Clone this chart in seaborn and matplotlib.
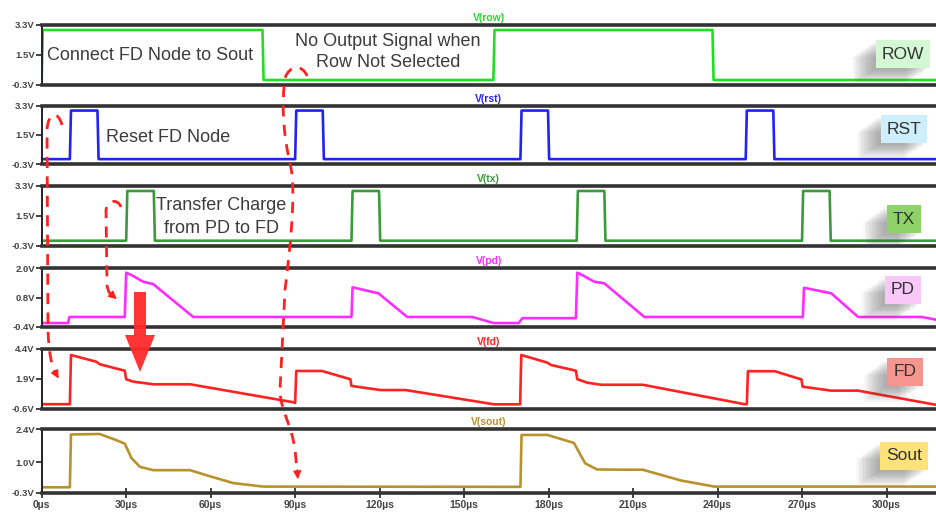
import matplotlib.pyplot as plt
import matplotlib.patheffects as pe
from matplotlib.path import Path
from matplotlib.patches import PathPatch, Polygon, FancyArrowPatch
import seaborn as sns

# ---- waveform breakpoints: time (us) and voltage (V) ----
row_t = [0, 0.4, 78.4, 78.8, 160.4, 160.8, 238.2, 238.6, 318]
row_v = [0, 3.0, 3.0, 0, 0, 3.0, 3.0, 0, 0]

rst_t = [0, 10, 10.4, 19.8, 20.2, 90, 90.4, 99.8, 100.2, 170, 170.4, 179.8, 180.2,
         250, 250.4, 259.8, 260.2, 318]
rst_v = [0, 0, 3.0, 3.0, 0, 0, 3.0, 3.0, 0, 0, 3.0, 3.0, 0, 0, 3.0, 3.0, 0, 0]

tx_t = [0, 30, 30.4, 39.8, 40.2, 110, 110.4, 119.8, 120.2, 190, 190.4, 199.8, 200.2,
        270, 270.4, 279.8, 280.2, 318]
tx_v = [0, 0, 3.0, 3.0, 0, 0, 3.0, 3.0, 0, 0, 3.0, 3.0, 0, 0, 3.0, 3.0, 0, 0]

pd_t = [0, 9.4, 9.8, 29.5, 30, 31.9, 36, 39.6, 53.8, 110, 110.4, 119.6, 129.8, 152.9,
        160.5, 169.4, 170.7, 189.7, 190.2, 191.5, 196.2, 199.8, 214, 270.3, 270.7,
        280.4, 289.9, 312.5, 318]
pd_v = [-0.25, -0.25, 0.0, 0.0, 1.82, 1.72, 1.45, 1.35, 0.0, 0.0, 1.22, 0.97, 0.0, 0.0,
        -0.25, -0.25, -0.05, -0.05, 1.82, 1.75, 1.45, 1.38, 0.0, 0.0, 1.2, 0.97, 0.0,
        0.0, -0.12]

fd_t = [0, 10, 10.4, 19.4, 20.6, 29.5, 30, 32.5, 39.6, 52.7, 89.4, 90, 90.4, 99.5,
        109.6, 110, 120.3, 129.2, 160.6, 169.9, 170.3, 179.6, 180.8, 189.7, 190.2,
        193.8, 198.6, 213.4, 249.6, 250.4, 250.8, 260.3, 269.8, 270.2, 280.4, 289.9, 318]
fd_v = [-0.2, -0.2, 3.9, 3.34, 3.13, 2.59, 1.88, 1.68, 1.46, 1.46, -0.04, -0.1, 2.57,
        2.57, 1.88, 1.32, 0.98, 0.98, -0.21, -0.21, 3.9, 3.26, 3.07, 2.59, 1.88, 1.59,
        1.42, 1.42, -0.2, -0.2, 2.55, 2.55, 1.86, 1.26, 0.93, 0.93, -0.27]

sout_t = [0, 10, 10.4, 20.6, 26, 29.5, 31.9, 34.9, 39.6, 52.7, 58.6, 68, 78.7, 160.6,
          170, 170.4, 179.6, 189, 193, 197.2, 205.7, 213.4, 227, 238.9, 318]
sout_v = [-0.07, -0.07, 2.18, 2.2, 1.96, 1.79, 1.17, 0.8, 0.66, 0.66, 0.44, 0.11, -0.04,
          -0.05, -0.05, 2.16, 2.16, 1.82, 0.95, 0.69, 0.68, 0.68, 0.22, -0.04, -0.04]

x_ticks = [0, 30, 60, 90, 120, 150, 180, 210, 240, 270, 300]
x_labels = [f"{t}µs" for t in x_ticks]

W, H = 936, 519


def fx(x):
    return x / W


def fy(y):
    return 1 - y / H


sns.set_theme(style="white")
plt.rcParams["font.family"] = ["Liberation Sans", "DejaVu Sans"]

fig = plt.figure(figsize=(9.36, 5.19), dpi=100)

# t, v, colour, title, yticks, box label, box colour, top px, bottom px, box centre
panels = [
    (row_t, row_v, "#1fe01f", "V(row)", [-0.3, 1.5, 3.3], "ROW", "#d4f8d4", 25, 85, (903, 54)),
    (rst_t, rst_v, "#2323ee", "V(rst)", [-0.3, 1.5, 3.3], "RST", "#cdeefc", 105.7, 164, (904, 129)),
    (tx_t, tx_v, "#3b9b3b", "V(tx)", [-0.3, 1.5, 3.3], "TX", "#8ed36a", 186, 245.7, (904, 219)),
    (pd_t, pd_v, "#ff2cff", "V(pd)", [-0.4, 0.8, 2.0], "PD", "#f9c8f9", 268.3, 326.7, (903, 290)),
    (fd_t, fd_v, "#ff2222", "V(fd)", [-0.6, 1.9, 4.4], "FD", "#f4968e", 349, 409, (905, 372)),
    (sout_t, sout_v, "#b8922c", "V(sout)", [-0.3, 1.0, 2.4], "Sout", "#fde27a", 429.3, 492.7, (904, 456)),
]

x0 = 41.7
xmax = (W - x0) / 2.816

# soft shadow built from stacked translucent copies
shadow = [pe.withSimplePatchShadow(offset=(-2 - 1.0 * k, -1.5 - 0.7 * k),
                                   shadow_rgbFace="#555555", alpha=0.035)
          for k in range(16)] + [pe.Normal()]

for i, (t, v, c, title, yt, lab, bc, top, bot, bxy) in enumerate(panels):
    ax = fig.add_axes([fx(x0), fy(bot), 1 - fx(x0), (bot - top) / H])
    sns.lineplot(x=t, y=v, ax=ax, color=c, lw=1.9, estimator=None, sort=False)
    ax.set_xlim(0, xmax)
    ax.set_ylim(yt[0], yt[-1])
    ax.set_yticks(yt)
    ax.set_yticklabels([f"{y:.1f}V" for y in yt])
    ax.tick_params(axis="y", direction="out", length=4, width=1.2, pad=1,
                   labelsize=6.8, labelcolor="#444444", color="#222222", left=True)
    for lbl in ax.get_yticklabels():
        lbl.set_fontweight("bold")
    ax.set_title(title, color=c, fontsize=7.5, fontweight="bold", pad=3)
    ax.set_xlabel("")
    ax.set_ylabel("")
    for s in ("top", "bottom"):
        ax.spines[s].set_linewidth(2.6)
        ax.spines[s].set_color("#333333")
    ax.spines["left"].set_linewidth(1.4)
    ax.spines["left"].set_color("#222222")
    ax.spines["right"].set_visible(False)
    if i == len(panels) - 1:
        ax.set_xticks(x_ticks)
        ax.set_xticklabels(x_labels)
        ax.tick_params(axis="x", direction="inout", length=7, width=1.2, pad=2,
                       labelsize=7.5, labelcolor="#444444", color="#222222", bottom=True)
        for lbl in ax.get_xticklabels():
            lbl.set_fontweight("bold")
    else:
        ax.set_xticks([])

    txt = fig.text(fx(bxy[0]), fy(bxy[1]), lab, ha="center", va="center",
                   fontsize=12.5, color="#333333",
                   bbox=dict(boxstyle="square,pad=0.35", fc=bc, ec="none"))
    txt.get_bbox_patch().set_path_effects(shadow)

# annotation texts
tc = "#3c3c3c"
fig.text(fx(150), fy(55), "Connect FD Node to Sout", ha="center", va="center", fontsize=13, color=tc)
fig.text(fx(388), fy(52), "No Output Signal when\nRow Not Selected", ha="center", va="center",
         fontsize=13, color=tc, linespacing=1.35)
fig.text(fx(168), fy(138), "Reset FD Node", ha="center", va="center", fontsize=13, color=tc)
fig.text(fx(221), fy(217), "Transfer Charge\nfrom PD to FD", ha="center", va="center",
         fontsize=13, color=tc, linespacing=1.4)


# dashed red arrows (pixel coords)
def dashed(segs, head_from, head_to):
    verts, codes = [], []
    for kind, pts in segs:
        pts = [(fx(a), fy(b)) for a, b in pts]
        if kind == "M":
            codes.append(Path.MOVETO)
        elif kind == "L":
            codes.append(Path.LINETO)
        else:
            codes += [Path.CURVE4] * 3
        verts += pts
    fig.add_artist(PathPatch(Path(verts, codes), transform=fig.transFigure, fill=False,
                             ec="#ff2020", lw=2.0, ls=(0, (4, 3)), zorder=10))
    fig.add_artist(FancyArrowPatch((fx(head_from[0]), fy(head_from[1])),
                                   (fx(head_to[0]), fy(head_to[1])),
                                   transform=fig.transFigure, arrowstyle="-|>",
                                   mutation_scale=12, color="#ff2020", lw=1, zorder=10))


dashed([("M", [(62, 125)]), ("C", [(58, 110), (48, 112), (47, 130)]),
        ("L", [(48, 330)]), ("C", [(49, 355), (52, 368), (56, 375)])],
       (55, 372), (60, 381))
dashed([("M", [(121, 207)]), ("C", [(118, 199), (108, 199), (106, 210)]),
        ("L", [(107, 285)]), ("C", [(108, 292), (111, 296), (114, 298)])],
       (112, 295), (119, 301))
dashed([("M", [(307, 76)]), ("C", [(303, 65), (290, 64), (285, 78)]),
        ("C", [(282, 100), (282, 130), (291, 168)]),
        ("C", [(296, 195), (290, 250), (285, 290)]),
        ("L", [(280, 390)]), ("C", [(280, 410), (292, 425), (295, 450)]),
        ("L", [(297, 470)])],
       (297, 467), (298, 482))

# big red arrow between PD and FD
arrow_px = [(134, 292), (146, 292), (146, 335), (155, 335), (140, 372), (125, 335), (134, 335)]
fig.add_artist(Polygon([(fx(a), fy(b)) for a, b in arrow_px], closed=True,
                       transform=fig.transFigure, fc="#ff2a2a", ec="none", alpha=0.95, zorder=11))

fig.savefig("out.png", dpi=100)
